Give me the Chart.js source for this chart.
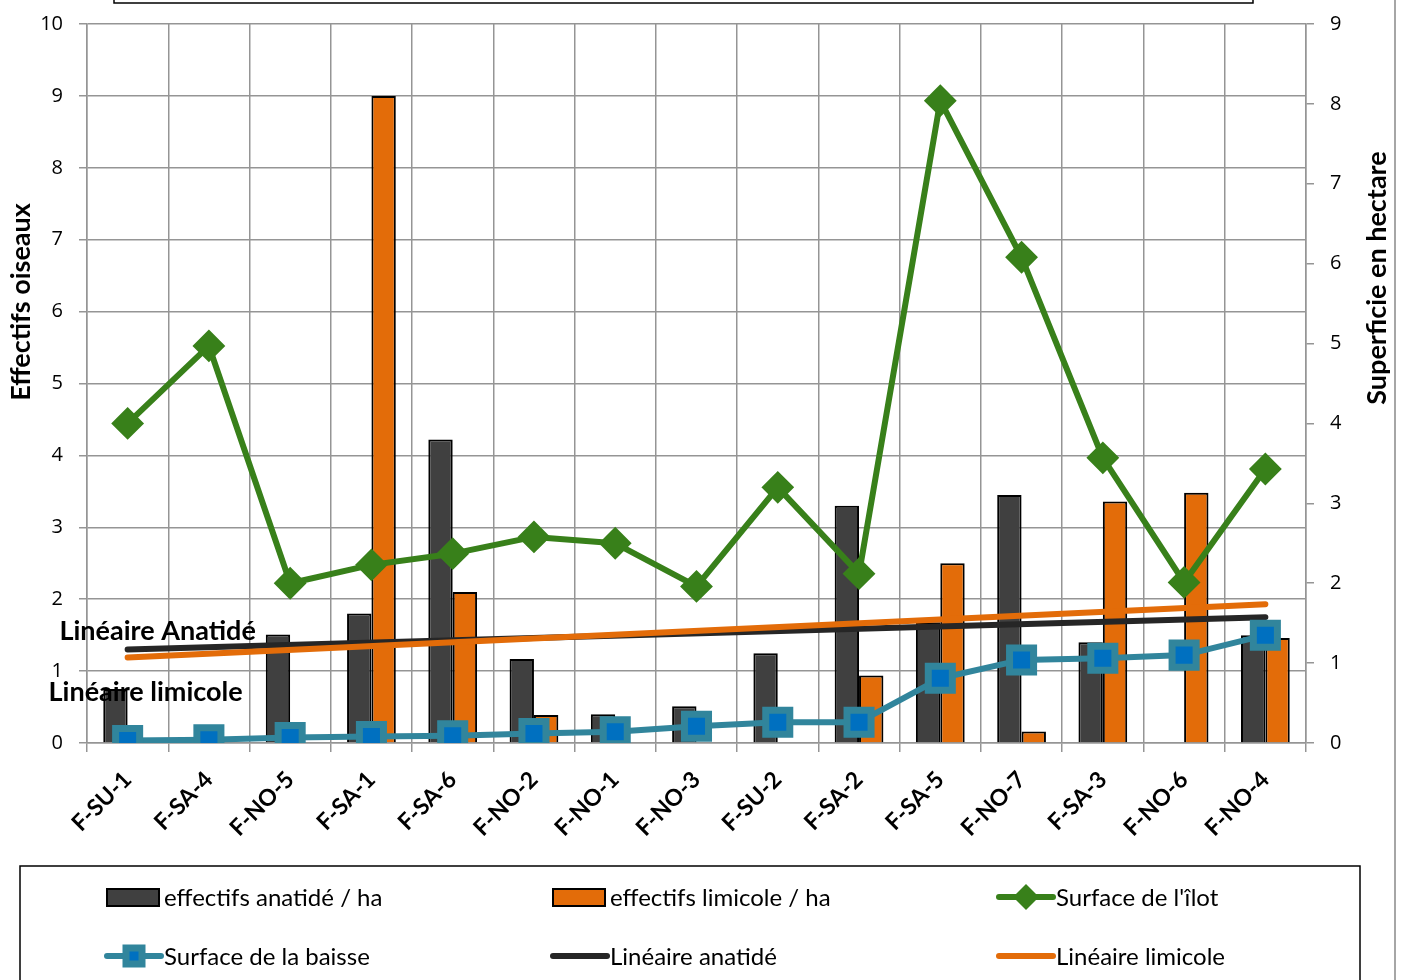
<!DOCTYPE html>
<html>
<head>
<meta charset="utf-8">
<script src="https://cdn.jsdelivr.net/npm/chart.js@4/dist/chart.umd.min.js"></script>
<style>
  html, body { margin: 0; padding: 0; background: #fff; overflow: hidden; }
  #wrap { width: 1404px; height: 980px; position: relative; }
</style>
</head>
<body>
<div id="wrap"><canvas id="chart" width="1404" height="980"></canvas></div>
<script>
//-------------------
// data
//-------------------
var categories = ['F-SU-1', 'F-SA-4', 'F-NO-5', 'F-SA-1', 'F-SA-6', 'F-NO-2', 'F-NO-1', 'F-NO-3',
                  'F-SU-2', 'F-SA-2', 'F-SA-5', 'F-NO-7', 'F-SA-3', 'F-NO-6', 'F-NO-4'];
var anatide = [0.75, 0, 1.51, 1.80, 4.22, 1.17, 0.40, 0.51, 1.25, 3.30, 1.68, 3.45, 1.40, 0, 1.50];
var limicole = [0, 0, 0, 9.0, 2.10, 0.39, 0, 0, 0, 0.94, 2.50, 0.16, 3.36, 3.48, 1.46];
var surfaceIlot = [4.00, 4.97, 2.00, 2.23, 2.37, 2.58, 2.50, 1.96, 3.20, 2.12, 8.04, 6.08, 3.57, 2.01, 3.43];
var surfaceBaisse = [0.03, 0.04, 0.07, 0.08, 0.09, 0.12, 0.14, 0.21, 0.26, 0.26, 0.81, 1.04, 1.06, 1.10, 1.35];
// trend lines: only the two end values, joined by a straight segment
var trendAnatide = [1.30, null, null, null, null, null, null, null, null, null, null, null, null, null, 1.75];
var trendLimicole = [1.19, null, null, null, null, null, null, null, null, null, null, null, null, null, 1.93];
var leftTicks = [0, 10];
var rightTicks = [0, 9];

var legendLabels = ["effectifs anatidé / ha", "effectifs limicole / ha", "Surface de l'îlot",
                    "Surface de la baisse", "Linéaire anatidé", "Linéaire limicole"];

//-------------------
// styles
//-------------------
var gridColor = '#959595';
var darkGray = '#404040';
var orange = '#E36C09';
var green = '#38801A';
var teal = '#31859C';
var blue = '#0070C0';
var trendBlack = '#262626';
var textFont = 'Lato, "Open Sans", sans-serif';
var tickFont = '"Open Sans", sans-serif';

// custom drawing: axis titles, trend labels, legend, frame bits
var decor = {
    id: 'decor',
    beforeDraw: function (chart) {
        var c = chart.ctx;
        c.save();
        c.fillStyle = '#fff';
        c.fillRect(0, 0, chart.width, chart.height);
        c.restore();
    },
    afterDraw: function (chart) {
        var c = chart.ctx;
        c.save();

        // cut-off title box at the top
        c.strokeStyle = '#000';
        c.lineWidth = 1.5;
        c.beginPath();
        c.moveTo(114, -2);
        c.lineTo(114, 3);
        c.lineTo(1253, 3);
        c.lineTo(1253, -2);
        c.stroke();

        // outer frame line on the right
        c.strokeStyle = '#a6a6a6';
        c.lineWidth = 2;
        c.beginPath();
        c.moveTo(1395, 0);
        c.lineTo(1395, 980);
        c.stroke();

        // axis titles
        c.fillStyle = '#000';
        c.font = 'bold 27px ' + textFont;
        c.textAlign = 'center';
        c.textBaseline = 'middle';
        c.save();
        c.translate(21, 302);
        c.rotate(-Math.PI / 2);
        c.fillText('Effectifs oiseaux', 0, 0);
        c.restore();
        c.save();
        c.translate(1377, 278);
        c.rotate(-Math.PI / 2);
        c.fillText('Superficie en hectare', 0, 0);
        c.restore();

        // trend line labels, placed from the first point of each trend line
        c.font = 'bold 27px ' + textFont;
        var pA = chart.getDatasetMeta(4).data[0];
        var pL = chart.getDatasetMeta(5).data[0];
        c.fillText('Linéaire Anatidé', pA.x + 30, pA.y - 18);
        c.fillText('Linéaire limicole', pL.x + 18, pL.y + 35);

        // legend
        c.strokeStyle = '#000';
        c.lineWidth = 1.5;
        c.strokeRect(20, 866, 1340, 200);

        var cols = [105, 551, 997];
        var rows = [897, 956];
        c.font = '24px ' + textFont;
        c.textAlign = 'left';
        for (var i = 0; i < 6; i++) {
            var sx = cols[i % 3];
            var sy = rows[Math.floor(i / 3)];
            var w = 56;
            if (i < 2) {
                c.fillStyle = i == 0 ? darkGray : orange;
                c.fillRect(sx + 2, sy - 8, w - 4, 17);
                c.strokeStyle = '#000';
                c.lineWidth = 2;
                c.strokeRect(sx + 2, sy - 8, w - 4, 17);
            } else {
                var col = [green, teal, trendBlack, orange][i - 2];
                c.strokeStyle = col;
                c.lineWidth = 6;
                c.lineCap = 'round';
                c.beginPath();
                c.moveTo(sx + 2, sy);
                c.lineTo(sx + w, sy);
                c.stroke();
                var mx = sx + w / 2 + 1;
                if (i == 2) {
                    c.fillStyle = green;
                    c.beginPath();
                    c.moveTo(mx, sy - 13);
                    c.lineTo(mx + 13, sy);
                    c.lineTo(mx, sy + 13);
                    c.lineTo(mx - 13, sy);
                    c.closePath();
                    c.fill();
                } else if (i == 3) {
                    c.fillStyle = blue;
                    c.strokeStyle = teal;
                    c.lineWidth = 7;
                    c.fillRect(mx - 8, sy - 8, 16, 16);
                    c.strokeRect(mx - 8, sy - 8, 16, 16);
                    c.fillRect(mx - 3, sy - 4, 6, 8);
                }
            }
            c.fillStyle = '#000';
            c.fillText(legendLabels[i], sx + w + 3, sy + 1);
        }
        c.restore();
    }
};

// fixed axis sizes so the plot area sits where it does in the picture
function fitY(width) {
    return function (s) {
        s.width = width;
        s.paddingTop = 0;
        s.paddingBottom = 0;
    };
}

var ctx = document.getElementById('chart').getContext('2d');
var chart = new Chart(ctx, {
    type: 'bar',
    data: {
        labels: categories,
        datasets: [
            {
                label: legendLabels[0], data: anatide, yAxisID: 'y', order: 10,
                backgroundColor: darkGray, borderColor: '#000', borderWidth: 2,
                categoryPercentage: 0.6, barPercentage: 1.0
            },
            {
                label: legendLabels[1], data: limicole, yAxisID: 'y', order: 10,
                backgroundColor: orange, borderColor: '#000', borderWidth: 2,
                categoryPercentage: 0.6, barPercentage: 1.0
            },
            {
                type: 'line', label: legendLabels[2], data: surfaceIlot, yAxisID: 'y2', order: 1,
                borderColor: green, borderWidth: 6, backgroundColor: green,
                pointStyle: 'rectRot', pointRadius: 15, pointBorderWidth: 2,
                pointBackgroundColor: green, pointBorderColor: green,
                borderJoinStyle: 'round', tension: 0
            },
            {
                type: 'line', label: legendLabels[3], data: surfaceBaisse, yAxisID: 'y2', order: 0,
                borderColor: teal, borderWidth: 6, backgroundColor: blue,
                pointStyle: 'rect', pointRadius: 17, pointBorderWidth: 7,
                pointBackgroundColor: blue, pointBorderColor: teal,
                borderJoinStyle: 'round', tension: 0
            },
            {
                type: 'line', label: legendLabels[4], data: trendAnatide, yAxisID: 'y', order: 3,
                borderColor: trendBlack, borderWidth: 6, borderCapStyle: 'round',
                pointRadius: 0, spanGaps: true
            },
            {
                type: 'line', label: legendLabels[5], data: trendLimicole, yAxisID: 'y', order: 2,
                borderColor: orange, borderWidth: 6, borderCapStyle: 'round',
                pointRadius: 0, spanGaps: true
            }
        ]
    },
    options: {
        responsive: false,
        animation: false,
        devicePixelRatio: 1,
        layout: { padding: { top: 22, left: 0, right: 0, bottom: 0 } },
        plugins: {
            legend: { display: false },
            tooltip: { enabled: false }
        },
        scales: {
            x: {
                offset: true,
                grid: { offset: true, color: gridColor, lineWidth: 1.5, tickLength: 9 },
                border: { color: gridColor, width: 1.5 },
                ticks: {
                    autoSkip: false, maxRotation: 45, minRotation: 45, padding: 14,
                    color: '#000', font: { family: textFont, size: 23, weight: 'bold' }
                },
                afterFit: function (s) { s.height = 237; }
            },
            y: {
                position: 'left',
                min: leftTicks[0], max: leftTicks[1],
                grid: { color: gridColor, lineWidth: 1.5, tickLength: 8 },
                border: { color: gridColor, width: 1.5 },
                ticks: {
                    stepSize: 1, padding: 16, color: '#000',
                    font: { family: tickFont, size: 20 }
                },
                afterFit: fitY(87)
            },
            y2: {
                position: 'right',
                min: rightTicks[0], max: rightTicks[1],
                grid: { drawOnChartArea: false, color: gridColor, lineWidth: 1.5, tickLength: 8 },
                border: { color: gridColor, width: 1.5 },
                ticks: {
                    stepSize: 1, padding: 16, color: '#000',
                    font: { family: tickFont, size: 20 }
                },
                afterFit: fitY(98)
            }
        }
    },
    plugins: [decor]
});
</script>
</body>
</html>
